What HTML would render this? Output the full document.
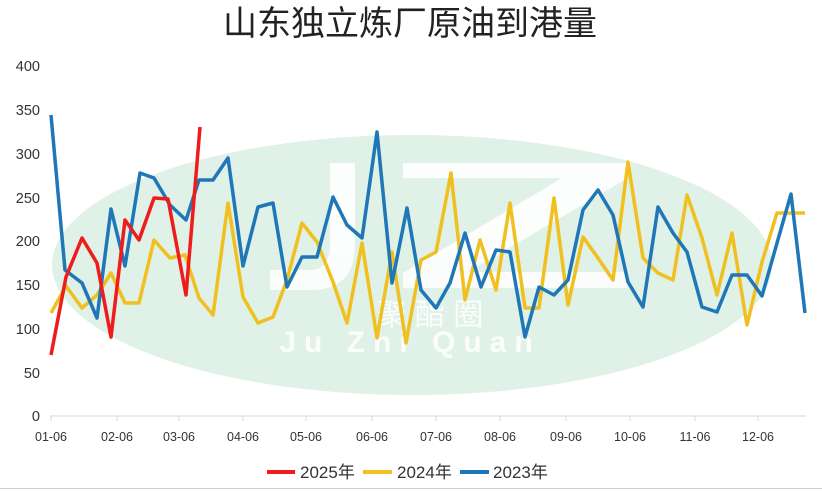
<!DOCTYPE html>
<html><head><meta charset="utf-8"><style>
body{margin:0;background:#fff;}
svg{display:block;font-family:"Liberation Sans","Noto Sans CJK SC",sans-serif;}
</style></head><body>
<svg width="822" height="491" viewBox="0 0 822 491">
<rect width="822" height="491" fill="#fff"/>
<text x="410" y="35" font-size="34" text-anchor="middle" fill="#222" font-family="'Liberation Sans','Noto Sans CJK SC',sans-serif">山东独立炼厂原油到港量</text>
<ellipse cx="412" cy="265" rx="360" ry="130" fill="#e0f1e7"/>
<g fill="#fff" opacity="0.9">
<path d="M330,163 H355 V245 Q355,290 310,290 H270 V270 H310 Q330,270 330,245 Z"/>
<path d="M403,163 H628 V178 L468,272 H628 V288 H403 V273 L562,178 H403 Z"/>
<text x="430" y="325" font-size="30" text-anchor="middle" fill="#fff">聚 酯 圈</text>
<text x="410" y="352" font-size="30" font-weight="bold" text-anchor="middle" fill="#fff" letter-spacing="8">Ju Zhi Quan</text>
</g>
<g font-size="14.5" fill="#333" text-anchor="end">
<text x="40" y="71">400</text><text x="40" y="115">350</text><text x="40" y="159">300</text><text x="40" y="203">250</text><text x="40" y="246">200</text><text x="40" y="290">150</text><text x="40" y="334">100</text><text x="40" y="378">50</text><text x="40" y="421">0</text>
</g>
<line x1="50" y1="416" x2="806" y2="416" stroke="#d9d9d9" stroke-width="1"/>
<g stroke="#d9d9d9"><line x1="51" y1="416" x2="51" y2="421"/><line x1="117" y1="416" x2="117" y2="421"/><line x1="179" y1="416" x2="179" y2="421"/><line x1="243" y1="416" x2="243" y2="421"/><line x1="306" y1="416" x2="306" y2="421"/><line x1="372" y1="416" x2="372" y2="421"/><line x1="436" y1="416" x2="436" y2="421"/><line x1="500" y1="416" x2="500" y2="421"/><line x1="566" y1="416" x2="566" y2="421"/><line x1="630" y1="416" x2="630" y2="421"/><line x1="695" y1="416" x2="695" y2="421"/><line x1="758" y1="416" x2="758" y2="421"/></g>
<g font-size="12.5" fill="#333" text-anchor="middle">
<text x="51" y="441">01-06</text><text x="117" y="441">02-06</text><text x="179" y="441">03-06</text><text x="243" y="441">04-06</text><text x="306" y="441">05-06</text><text x="372" y="441">06-06</text><text x="436" y="441">07-06</text><text x="500" y="441">08-06</text><text x="566" y="441">09-06</text><text x="630" y="441">10-06</text><text x="695" y="441">11-06</text><text x="758" y="441">12-06</text>
</g>
<g fill="none" stroke-width="3.5" stroke-linejoin="round">
<polyline stroke="#f0c020" points="51,313 66,286 82,308 97,295 111,273 125,303 139,303 154,240 170,258 185,255 199,298 213,315 228,203 243,297 258,323 273,317 287,280 302,223 317,242 333,282 347,323 362,243 377,338 392,252 406,343 421,260 436,252 451,173 465,300 480,240 496,290 510,203 525,308 539,308 554,198 568,305 583,237 598,258 613,280 628,162 643,258 658,273 673,280 687,195 702,238 717,295 732,233 747,325 762,262 777,213 791,213 805,213"/>
<polyline stroke="#1f77b8" points="51,115 65,270 82,283 97,318 111,209 125,266 140,173 154,178 170,205 186,220 199,180 213,180 228,158 243,266 258,207 273,203 287,287 302,257 317,257 333,197 347,225 362,238 377,132 392,283 407,208 421,290 436,308 450,283 465,233 481,287 496,250 510,252 525,337 539,287 554,295 568,280 583,210 598,190 613,215 628,282 643,307 658,207 673,233 687,252 702,307 717,312 732,275 747,275 762,296 777,243 791,194 805,313"/>
<polyline stroke="#ee1c1c" points="51,355 66,277 82,238 97,263 111,337 125,220 139,240 154,198 168,199 186,295 200,127"/>
</g>
<g font-size="17" fill="#333">
<line x1="267" y1="472" x2="295" y2="472" stroke="#ee1c1c" stroke-width="4"/>
<text x="300" y="478">2025年</text>
<line x1="363" y1="472" x2="392" y2="472" stroke="#f0c020" stroke-width="4"/>
<text x="397" y="478">2024年</text>
<line x1="460" y1="472" x2="489" y2="472" stroke="#1f77b8" stroke-width="4"/>
<text x="493" y="478">2023年</text>
</g>
<line x1="0" y1="488.5" x2="822" y2="488.5" stroke="#c8cfe0" stroke-width="1"/>
</svg>
</body></html>
